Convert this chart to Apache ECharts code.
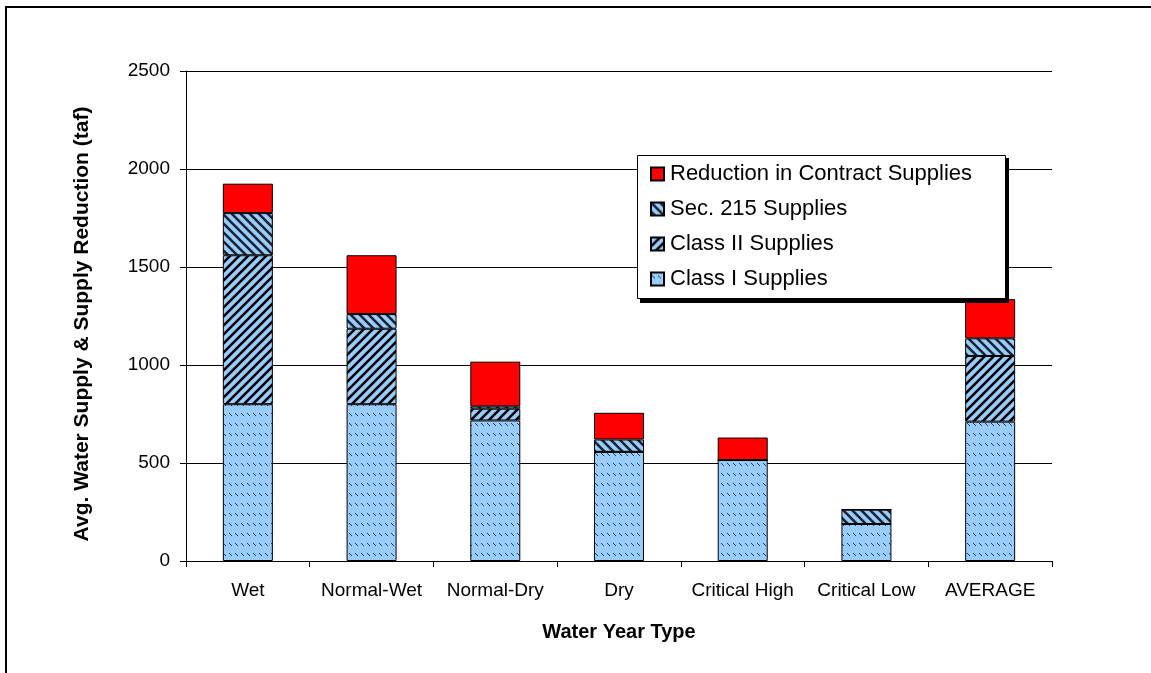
<!DOCTYPE html>
<html>
<head>
<meta charset="utf-8">
<script src="https://cdn.jsdelivr.net/npm/echarts@6/dist/echarts.min.js"></script>
<style>
html,body{margin:0;padding:0;background:#fff;}
#chart{width:1151px;height:673px;}
</style>
</head>
<body>
<div id="chart"></div>
<script>
// ---- data ----
var categories = ['Wet', 'Normal-Wet', 'Normal-Dry', 'Dry', 'Critical High', 'Critical Low', 'AVERAGE'];
var classI    = [800, 800, 717, 557, 515, 189, 711];
var classII   = [760, 385, 60, 0, 0, 0, 335];
var sec215    = [215, 75, 12, 63, 0, 73, 90];
var reduction = [150, 300, 228, 136, 115, 0, 200];
var yTicks = [0, 500, 1000, 1500, 2000, 2500];
var seriesNames = ['Class I Supplies', 'Class II Supplies', 'Sec. 215 Supplies', 'Reduction in Contract Supplies'];

// ---- patterns ----
function makePattern(w, h, draw) {
  var c = document.createElement('canvas');
  c.width = w; c.height = h;
  var ctx = c.getContext('2d');
  ctx.fillStyle = '#99CCFF';
  ctx.fillRect(0, 0, w, h);
  draw(ctx, w, h);
  return { image: c, repeat: 'repeat' };
}
function forwardLines(ctx, s, lw, color) { // "/"
  ctx.strokeStyle = color; ctx.lineWidth = lw; ctx.lineCap = 'square';
  ctx.beginPath();
  ctx.moveTo(-2, 2); ctx.lineTo(2, -2);
  ctx.moveTo(0, s); ctx.lineTo(s, 0);
  ctx.moveTo(s - 2, s + 2); ctx.lineTo(s + 2, s - 2);
  ctx.stroke();
}
function backLines(ctx, s, lw, color) { // "\"
  ctx.strokeStyle = color; ctx.lineWidth = lw; ctx.lineCap = 'square';
  ctx.beginPath();
  ctx.moveTo(-2, s - 2); ctx.lineTo(2, s + 2);
  ctx.moveTo(0, 0); ctx.lineTo(s, s);
  ctx.moveTo(s - 2, -2); ctx.lineTo(s + 2, 2);
  ctx.stroke();
}
var patClassI = makePattern(6, 10, function (ctx) {
  ctx.strokeStyle = 'rgba(20,30,50,0.85)'; ctx.lineWidth = 1;
  ctx.beginPath();
  ctx.moveTo(1, 3); ctx.lineTo(4, 6);
  ctx.stroke();
});
var patClassII = makePattern(9, 9, function (ctx, w) { forwardLines(ctx, w, 2.6, '#000'); });
var patSec215 = makePattern(9, 9, function (ctx, w) { backLines(ctx, w, 2.6, '#1b2330'); });

var chart = echarts.init(document.getElementById('chart'));
var FONT = 'Liberation Sans, Arial, sans-serif';

function barSeries(name, data, color) {
  return {
    name: name,
    type: 'bar',
    stack: 'total',
    data: data,
    barWidth: 50,
    itemStyle: { color: color, borderColor: '#000', borderWidth: 1 },
    emphasis: { disabled: true },
    animation: false
  };
}

var option = {
  animation: false,
  textStyle: { fontFamily: FONT },
  grid: { left: 186, top: 71, width: 866, height: 490, containLabel: false },
  graphic: [
    { type: 'polyline', z: 1, shape: { points: [[6, 673], [6, 7], [1151, 7]] }, style: { stroke: '#000', lineWidth: 2, fill: null } },
    { type: 'rect', z: 3, shape: { x: 640, y: 158, width: 369, height: 145 }, style: { fill: '#000' } },
    { type: 'rect', z: 3, shape: { x: 637.5, y: 155.5, width: 368, height: 143 }, style: { fill: '#fff', stroke: '#000', lineWidth: 1 } }
  ],
  legend: {
    z: 5,
    orient: 'vertical',
    left: 644,
    top: 160,
    padding: [3, 6, 3, 6],
    itemWidth: 13,
    itemHeight: 13,
    itemGap: 13,
    icon: 'rect',
    data: ['Reduction in Contract Supplies', 'Sec. 215 Supplies', 'Class II Supplies', 'Class I Supplies'],
    textStyle: { fontFamily: FONT, fontSize: 22, color: '#000', padding: [0, 0, 0, 1] },
    selectedMode: false
  },
  xAxis: {
    type: 'category',
    data: categories,
    name: 'Water Year Type',
    nameLocation: 'middle',
    nameGap: 61,
    nameTextStyle: { fontFamily: FONT, fontSize: 20, fontWeight: 'bold', color: '#000' },
    axisLine: { lineStyle: { color: '#000', width: 1 } },
    axisTick: { show: true, length: 6, lineStyle: { color: '#000' } },
    axisLabel: { fontFamily: FONT, fontSize: 19, color: '#000', margin: 20, interval: 0 }
  },
  yAxis: {
    type: 'value',
    min: 0,
    max: 2500,
    interval: 500,
    name: 'Avg. Water Supply & Supply Reduction (taf)',
    nameLocation: 'middle',
    nameGap: 93,
    nameTextStyle: { fontFamily: FONT, fontSize: 21, fontWeight: 'bold', color: '#000', padding: [0, 16, 0, 0] },
    axisLine: { show: true, lineStyle: { color: '#000', width: 1 } },
    axisTick: { show: true, length: 6, lineStyle: { color: '#000' } },
    axisLabel: {
      fontFamily: FONT, fontSize: 19, color: '#000', margin: 16,
      formatter: function (v) { return yTicks.indexOf(v) >= 0 ? String(v) : ''; }
    },
    splitLine: { show: true, lineStyle: { color: '#000', width: 1 } }
  },
  series: [
    barSeries(seriesNames[0], classI, patClassI),
    barSeries(seriesNames[1], classII, patClassII),
    barSeries(seriesNames[2], sec215, patSec215),
    barSeries(seriesNames[3], reduction, '#FF0000')
  ]
};
chart.setOption(option);
</script>
</body>
</html>
